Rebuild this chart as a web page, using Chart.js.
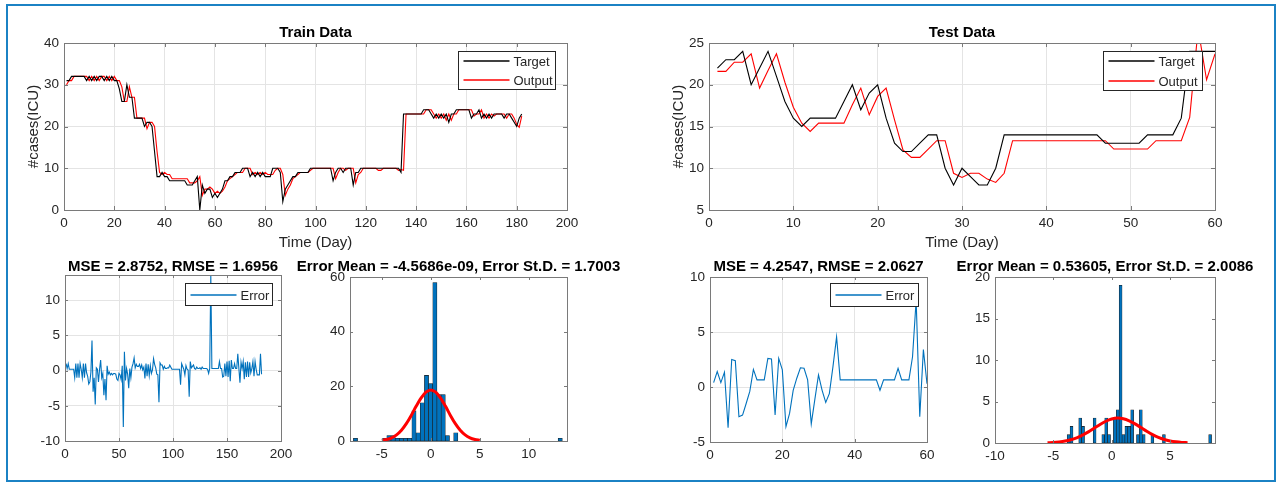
<!DOCTYPE html>
<html>
<head>
<meta charset="utf-8">
<script src="https://cdn.jsdelivr.net/npm/chart.js@4.4.1/dist/chart.umd.min.js"></script>
<style>
  html, body { margin: 0; padding: 0; background: #fff; }
  #figure { position: relative; width: 1282px; height: 485px; overflow: hidden; background: #fff; }
  #frame { position: absolute; left: 6px; top: 4px; width: 1266px; height: 474px; border: 2px solid #1b82c4; }
  #figure canvas { position: absolute; }
</style>
</head>
<body>
<div id="figure"><div id="frame"></div></div>
<script>
const FONT = '"Liberation Sans", Arial, Helvetica, sans-serif';
const TICK_COLOR = '#262626';
const AXIS_COLOR = '#7a7a7a';
const GRID_COLOR = '#e4e4e4';
const MATLAB_BLUE = '#0072bd';

// ---- values ----
// train period, day 1..182
const trainTarget = [
  31, 31, 32, 32, 32, 32, 32, 32, 31, 32,
  31, 32, 31, 32, 32, 31, 32, 31, 32, 31,
  31, 29, 26, 26, 30, 27, 27, 22, 22, 22,
  22, 20, 21, 21, 20, 14, 8, 8, 9, 8,
  8, 7, 7, 7, 7, 7, 7, 7, 6, 6,
  6, 7, 8, 0, 6, 4, 5, 5, 3, 4,
  3, 4, 5, 7, 7, 8, 8, 9, 9, 9,
  10, 10, 10, 8, 9, 8, 9, 8, 9, 8,
  8, 8, 10, 10, 10, 9, 2, 5, 6, 7,
  8, 8, 9, 9, 9, 9, 9, 10, 10, 10,
  10, 10, 10, 10, 10, 10, 7, 9, 10, 10,
  9, 10, 10, 10, 6, 9, 9, 10, 10, 10,
  10, 10, 10, 10, 10, 10, 10, 10, 10, 10,
  10, 10, 10, 9, 23, 23, 23, 23, 23, 23,
  23, 23, 24, 24, 24, 23, 22, 23, 22, 23,
  22, 23, 21, 23, 23, 24, 24, 24, 24, 24,
  24, 22, 23, 23, 24, 22, 23, 22, 23, 22,
  23, 23, 23, 23, 22, 23, 23, 22, 21, 20,
  22, 23
];
const trainOutput = [
  30, 31, 31, 32, 32, 32, 32, 32, 32, 31,
  32, 31, 32, 31, 32, 32, 31, 32, 31, 32,
  31, 31, 29.5, 26, 26, 29.5, 27, 27, 22, 22,
  22, 22, 19.5, 21, 21, 20, 14, 9, 8.5, 9,
  8.5, 8.5, 7.5, 7.5, 7.5, 7.5, 7.5, 7.5, 7.5, 6.5,
  6.5, 6.5, 7, 8, 3.5, 5, 5, 5.5, 5, 4,
  4.5, 4, 4.5, 5.5, 7, 7.5, 8, 8.5, 9, 9,
  9, 10, 10, 10, 8.5, 9, 8.5, 9, 8.5, 9,
  8.5, 8.5, 8.5, 9.5, 10, 10, 8.5, 3.5, 5, 6,
  7.5, 8, 8.5, 9, 9, 9, 9, 9.5, 10, 10,
  10, 10, 10, 10, 10, 10, 10, 7.5, 9, 10,
  10, 9.5, 10, 10, 10, 6.5, 8.5, 9, 10, 10,
  10, 10, 10, 10, 9.5, 9.5, 10, 10, 10, 10,
  10, 10, 9.5, 9.7, 9.5, 23, 23, 23, 23, 23,
  23, 23, 23, 24, 24, 24, 23, 22, 23, 22,
  23, 21.5, 23, 21.5, 23, 23, 24, 24, 24, 24,
  24, 24, 22.5, 23, 23, 24, 22, 23, 22, 23,
  22.5, 23, 23, 23, 23, 22, 23, 23, 22, 20.5,
  19.8, 22.5
];
const trainError = [
  1.0, 0.3, 1.0, 0.2, 0.2, 0.2, 0.2, 0.2, -1.0, 1.0,
  -1.0, 1.0, -1.0, 1.0, 0.2, -1.0, 1.0, -1.0, 1.0, -0.3,
  -0.8, -1.9, -1.6, -0.2, 4.3, -3.0, -1.0, -4.8, 0.4, 0.2,
  -1.6, 0.2, 1.5, -1.0, -0.4, -3.5, -1.2, -4.2, 0.7, -0.5,
  -0.2, -0.6, -0.4, -0.6, -0.4, -0.4, -0.5, -1.2, -1.4, -0.4,
  -0.6, -1.3, 0.7, -8.0, 2.7, -1.4, 0.3, -0.5, -2.5, 0.3,
  -1.0, 0.5, 1.0, 1.8, 0.4, 0.9, 0.6, 0.6, 0.9, 0.3,
  0.8, 0.1, 0.5, -1.1, 1.0, -0.8, 0.9, -0.7, 0.7, -0.4,
  0.1, 1.7, 0.9, 0.4, -0.5, -0.6, -4.5, 1.1, 0.8, 0.8,
  0.2, 0.6, 0.3, 0.3, 0.4, 0.4, 0.8, 0.5, 0.2, 0.2,
  0.2, 0.2, 0.2, 0.2, 0.2, 0.2, -2.0, 1.0, 0.6, 0.2,
  -0.6, 0.7, 0.2, 0.1, -3.7, 1.3, 0.4, 0.6, 0.8, 0.3,
  0.2, 0.5, 0.3, 0.3, 0.4, 0.2, 0.5, 0.3, 0.3, 0.3,
  0.3, 0.2, -0.4, 0.3, 13.6, 0.3, 0.3, 0.3, 0.3, 0.3,
  0.3, 0.3, 1.3, 0.3, 0.3, -0.9, -0.8, 1.0, -0.8, 1.3,
  -0.9, 1.4, -1.5, 1.5, 0.3, 0.3, 1.0, 0.3, 0.3, 2.4,
  0.3, -1.7, 1.2, 0.3, 1.3, -1.2, 1.2, -0.9, 1.3, -0.9,
  1.2, -0.3, 0.3, 1.3, -0.8, 1.3, 0.2, -0.6, -0.6, -0.6,
  2.4, -0.5
];

// test period, day 1..60
const testTarget = [
  22, 23, 23, 24, 20, 22, 24, 21, 18, 16,
  15, 16, 16, 16, 16, 18, 20, 17, 19, 20,
  16, 13, 12, 12, 13, 14, 14, 10, 8, 10,
  9, 8, 8, 10, 14, 14, 14, 14, 14, 14,
  14, 14, 14, 14, 14, 14, 13, 13, 13, 13,
  13, 14, 14, 14, 14, 16, 24, 24, 24, 24
];
const testOutput = [
  21.6, 21.6, 22.7, 22.7, 23.7, 19.6, 21.7, 23.7, 20.3, 17.3,
  15.4, 14.4, 15.4, 15.4, 15.4, 15.4, 17.6, 19.6, 16.4, 18.6,
  19.6, 15.8, 12.2, 11.3, 11.3, 12.3, 13.3, 13.3, 9.4, 8.9,
  9.4, 9.4, 8.7, 8.3, 9.4, 13.3, 13.3, 13.3, 13.3, 13.3,
  13.3, 13.3, 13.3, 13.3, 13.3, 13.3, 13.3, 12.3, 12.3, 12.3,
  12.3, 12.3, 13.3, 13.3, 13.3, 13.3, 16.1, 26.7, 20.6, 23.7
];
const testError = [
  0.4, 1.4, 0.4, 1.35, -3.7, 2.5, 2.4, -2.7, -2.55, -1.5,
  -0.4, 1.6, 0.65, 0.65, 0.65, 2.6, 2.55, -2.55, 2.6, 1.55,
  -3.6, -2.4, -0.3, 0.8, 1.75, 1.7, 0.65, -3.35, -1.1, 1.1,
  -0.3, -1.4, -0.6, 1.85, 4.55, 0.65, 0.65, 0.65, 0.65, 0.65,
  0.65, 0.65, 0.65, 0.65, 0.65, 0.65, -0.3, 0.65, 0.65, 0.65,
  0.65, 1.7, 0.65, 0.65, 0.65, 2.75, 7.9, -2.7, 3.4, 0.3
];

// error histograms: 50 equal bins each
const trainBinStart = -7.69, trainBinWidth = 0.4265;
const trainBinCounts = [
  1, 0, 0, 0, 0, 0, 0, 1, 2, 2,
  1, 1, 1, 1, 11, 3, 14, 24, 21, 58,
  17, 17, 2, 0, 3, 0, 0, 0, 0, 0,
  0, 0, 0, 0, 0, 0, 0, 0, 0, 0,
  0, 0, 0, 0, 0, 0, 0, 0, 0, 1
];
const trainFitX = [-5, -4.5, -4, -3.5, -3, -2.5, -2, -1.5, -1, -0.5, 0, 0.5, 1, 1.5, 2, 2.5, 3, 3.5, 4, 4.5, 5];
const trainFitY = [0.25, 0.57, 1.17, 2.25, 3.94, 6.35, 9.36, 12.7, 15.7, 17.9, 18.7, 17.9, 15.7, 12.7, 9.36, 6.35, 3.94, 2.25, 1.17, 0.57, 0.25];

const testBinStart = -3.69, testBinWidth = 0.2474;
const testBinCounts = [
  1, 2, 0, 0, 3, 2, 0, 0, 0, 3,
  0, 0, 1, 3, 1, 0, 3, 4, 19, 1,
  2, 2, 4, 0, 1, 4, 1, 0, 0, 1,
  0, 0, 0, 1, 0, 0, 0, 0, 0, 0,
  0, 0, 0, 0, 0, 0, 0, 0, 0, 1
];
const testFitX = [-5.5, -5, -4.5, -4, -3.5, -3, -2.5, -2, -1.5, -1, -0.5, 0, 0.5, 1, 1.5, 2, 2.5, 3, 3.5, 4, 4.5, 5, 5.5, 6, 6.5];
const testFitY = [0.03, 0.06, 0.13, 0.23, 0.39, 0.63, 0.95, 1.34, 1.78, 2.23, 2.62, 2.89, 3.0, 2.92, 2.67, 2.30, 1.86, 1.41, 1.0, 0.67, 0.42, 0.25, 0.14, 0.07, 0.04];

// tick labels
const trainDayTicks = [0, 20, 40, 60, 80, 100, 120, 140, 160, 180, 200];
const trainCaseTicks = [0, 10, 20, 30, 40];
const testDayTicks = [0, 10, 20, 30, 40, 50, 60];
const testCaseTicks = [5, 10, 15, 20, 25];
const trainErrDayTicks = [0, 50, 100, 150, 200];
const trainErrTicks = [-10, -5, 0, 5, 10];
const trainBinTicks = [-5, 0, 5, 10];
const trainCountTicks = [0, 20, 40, 60];
const testErrDayTicks = [0, 20, 40, 60];
const testErrTicks = [-5, 0, 5, 10];
const testBinTicks = [-10, -5, 0, 5];
const testCountTicks = [0, 5, 10, 15, 20];

// ---- helpers ----
const byDay = arr => arr.map((v, i) => ({ x: i + 1, y: v }));
const pairs = (xs, ys) => xs.map((x, i) => ({ x, y: ys[i] }));
const bins = (start, width, counts) => counts.map((c, i) => ({ x: start + i * width, y: c }));

const PAD_L = 60, PAD_T = 40, PAD_R = 70, PAD_B = 50;

// MATLAB-like decorations: box, inward ticks, title, axis labels, legend
const matlabAxes = {
  id: 'matlabAxes',
  afterDraw(chart, args, o) {
    const { ctx, chartArea: a, scales } = chart;
    const line = (x1, y1, x2, y2) => { ctx.beginPath(); ctx.moveTo(x1, y1); ctx.lineTo(x2, y2); ctx.stroke(); };
    ctx.save();
    ctx.strokeStyle = AXIS_COLOR;
    ctx.lineWidth = 1;
    ctx.strokeRect(a.left + 0.5, a.top + 0.5, a.right - a.left, a.bottom - a.top);
    const tl = o.tickLen;
    scales.x.ticks.forEach(t => {
      const x = Math.round(scales.x.getPixelForValue(t.value)) + 0.5;
      line(x, a.bottom, x, a.bottom - tl);
      line(x, a.top, x, a.top + tl);
    });
    scales.y.ticks.forEach(t => {
      const y = Math.round(scales.y.getPixelForValue(t.value)) + 0.5;
      line(a.left, y, a.left + tl, y);
      line(a.right, y, a.right - tl, y);
    });

    const cx = (a.left + a.right) / 2;
    ctx.fillStyle = '#000';
    ctx.textAlign = 'center';
    ctx.textBaseline = 'alphabetic';
    ctx.font = 'bold 15px ' + FONT;
    ctx.fillText(o.title, cx, a.top - o.titleGap);

    ctx.fillStyle = TICK_COLOR;
    ctx.font = '15px ' + FONT;
    ctx.textBaseline = 'middle';
    if (o.xLabel) ctx.fillText(o.xLabel, cx, a.bottom + 33);
    if (o.yLabel) {
      ctx.save();
      ctx.translate(a.left - 30, (a.top + a.bottom) / 2);
      ctx.rotate(-Math.PI / 2);
      ctx.fillText(o.yLabel, 0, 0);
      ctx.restore();
    }

    if (o.legend) {
      const L = o.legend;
      const items = chart.data.datasets.filter(d => d.label);
      const x0 = Math.round(a.right - L.right - L.w) + 0.5;
      const y0 = Math.round(a.top + L.top) + 0.5;
      ctx.fillStyle = '#fff';
      ctx.fillRect(x0, y0, L.w, L.h);
      ctx.strokeStyle = '#262626';
      ctx.lineWidth = 1;
      ctx.strokeRect(x0, y0, L.w, L.h);
      ctx.font = '13px ' + FONT;
      ctx.textAlign = 'left';
      items.forEach((d, k) => {
        const y = Math.round(y0 + L.h * (k + 0.5) / items.length);
        ctx.strokeStyle = d.borderColor;
        ctx.lineWidth = 1.4;
        line(x0 + 5, y, x0 + 51, y);
        ctx.fillStyle = TICK_COLOR;
        ctx.fillText(d.label, x0 + 55, y + 1);
      });
    }
    ctx.restore();
  }
};

function axis(min, max, ticks, grid, side) {
  return {
    type: 'linear', min, max, offset: false,
    afterBuildTicks: s => { s.ticks = ticks.map(value => ({ value })); },
    afterFit: s => { if (side === 'x') s.height = PAD_B; else s.width = PAD_L; },
    grid: { display: grid, color: GRID_COLOR, drawTicks: false, offset: false },
    border: { display: false },
    ticks: {
      color: TICK_COLOR, font: { family: FONT, size: 13.5 }, padding: 5,
      maxRotation: 0, autoSkip: false, callback: v => String(v)
    }
  };
}

function panel(box, type, datasets, scales, deco) {
  const c = document.createElement('canvas');
  const w = box.right - box.left + PAD_L + PAD_R;
  const h = box.bottom - box.top + PAD_T + PAD_B;
  c.width = w;
  c.height = h;
  c.style.left = (box.left - PAD_L) + 'px';
  c.style.top = (box.top - PAD_T) + 'px';
  c.style.width = w + 'px';
  c.style.height = h + 'px';
  document.getElementById('figure').appendChild(c);
  return new Chart(c, {
    type,
    data: { datasets },
    options: {
      responsive: false, animation: false, devicePixelRatio: 1, events: [],
      layout: { padding: { left: 0, top: PAD_T, right: PAD_R, bottom: 0 } },
      plugins: { legend: { display: false }, tooltip: { enabled: false }, matlabAxes: deco },
      scales
    },
    plugins: [matlabAxes]
  });
}

const thinLine = (label, data, color) => ({
  type: 'line', label, data, borderColor: color, borderWidth: 1.1,
  pointRadius: 0, tension: 0, fill: false, order: 0
});
const fitCurve = data => ({
  type: 'line', data, borderColor: '#ff0000', borderWidth: 3,
  pointRadius: 0, tension: 0.3, fill: false, order: 0
});
const histBars = data => ({
  type: 'bar', data, backgroundColor: MATLAB_BLUE, borderColor: '#1a1a1a', borderWidth: 0.6,
  barPercentage: 1, categoryPercentage: 1, borderSkipped: false, order: 1
});

// ---- Train Data ----
panel({ left: 64, top: 43, right: 567, bottom: 210 }, 'line',
  [thinLine('Target', byDay(trainTarget), '#000000'), thinLine('Output', byDay(trainOutput), '#ff0000')],
  { x: axis(0, 200, trainDayTicks, true, 'x'), y: axis(0, 40, trainCaseTicks, true, 'y') },
  { title: 'Train Data', titleGap: 6, xLabel: 'Time (Day)', yLabel: '#cases(ICU)', tickLen: 4,
    legend: { w: 97, h: 38, right: 12, top: 8 } });

panel({ left: 65, top: 275, right: 281, bottom: 441 }, 'line',
  [thinLine('Error', byDay(trainError), MATLAB_BLUE)],
  { x: axis(0, 200, trainErrDayTicks, true, 'x'), y: axis(-10, 13.6, trainErrTicks, true, 'y') },
  { title: 'MSE = 2.8752, RMSE = 1.6956', titleGap: 4.5, tickLen: 3,
    legend: { w: 87, h: 22, right: 9, top: 8 } });

panel({ left: 350, top: 277, right: 567, bottom: 441 }, 'bar',
  [fitCurve(pairs(trainFitX, trainFitY)), histBars(bins(trainBinStart, trainBinWidth, trainBinCounts))],
  { x: axis(-8.25, 13.9, trainBinTicks, false, 'x'), y: axis(0, 60, trainCountTicks, false, 'y') },
  { title: 'Error Mean = -4.5686e-09, Error St.D. = 1.7003', titleGap: 6.5, tickLen: 3 });

// ---- Test Data ----
panel({ left: 709, top: 43, right: 1215, bottom: 210 }, 'line',
  [thinLine('Target', byDay(testTarget), '#000000'), thinLine('Output', byDay(testOutput), '#ff0000')],
  { x: axis(0, 60, testDayTicks, true, 'x'), y: axis(5, 25, testCaseTicks, true, 'y') },
  { title: 'Test Data', titleGap: 6, xLabel: 'Time (Day)', yLabel: '#cases(ICU)', tickLen: 4,
    legend: { w: 99, h: 39, right: 13, top: 8 } });

panel({ left: 710, top: 277, right: 927, bottom: 442 }, 'line',
  [thinLine('Error', byDay(testError), MATLAB_BLUE)],
  { x: axis(0, 60, testErrDayTicks, true, 'x'), y: axis(-5, 10, testErrTicks, true, 'y') },
  { title: 'MSE = 4.2547, RMSE = 2.0627', titleGap: 6.5, tickLen: 3,
    legend: { w: 88, h: 23, right: 9, top: 6 } });

panel({ left: 995, top: 277, right: 1215, bottom: 443 }, 'bar',
  [fitCurve(pairs(testFitX, testFitY)), histBars(bins(testBinStart, testBinWidth, testBinCounts))],
  { x: axis(-10, 8.85, testBinTicks, false, 'x'), y: axis(0, 20, testCountTicks, false, 'y') },
  { title: 'Error Mean = 0.53605, Error St.D. = 2.0086', titleGap: 6.5, tickLen: 3 });
</script>
</body>
</html>
